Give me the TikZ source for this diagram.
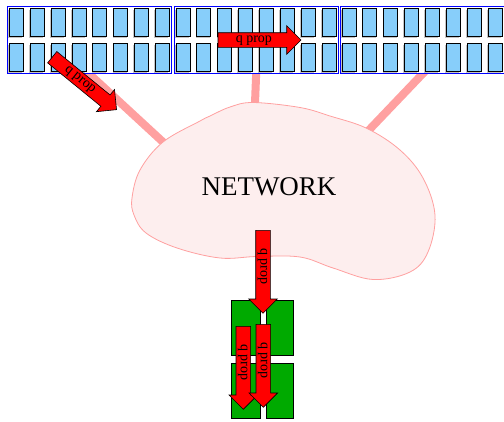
\documentclass[tikz,border=0pt]{standalone}
\usepackage{fontspec}
\setmainfont{Liberation Serif}
\usetikzlibrary{shapes.arrows,shadows}
\definecolor{cellblue}{RGB}{135,206,250}
\definecolor{netpink}{RGB}{255,160,160}
\definecolor{netfill}{RGB}{253,238,238}
\definecolor{grn}{RGB}{0,170,0}
\begin{document}
\begin{tikzpicture}[x=1pt,y=-1pt,
  rack/.style={draw=blue, fill=white, line width=1.3pt, minimum width=164pt, minimum height=67pt, inner sep=0pt, anchor=north west},
  cell/.style={draw=black, line width=1pt, fill=cellblue, minimum width=14pt, minimum height=28pt, inner sep=0pt, anchor=north west, drop shadow={shadow xshift=-1.2pt, shadow yshift=-1.2pt, opacity=0.45}},
  link/.style={draw=netpink, line width=8pt, shorten <=-6pt, shorten >=-6pt},
  gbox/.style={draw=black, line width=0.8pt, fill=grn, inner sep=0pt, anchor=north west, minimum height=55pt},
  qarrow/.style={single arrow, draw=black, fill=red, line width=0.6pt, font=\fontsize{14}{14}\selectfont, text height=9pt, text depth=4pt, inner ysep=0.5pt, inner xsep=1pt, single arrow head extend=7pt, minimum height=83pt, anchor=tail}
]
\useasboundingbox (0,0) rectangle (504,421);
% link end points on the cloud
\coordinate (e1) at (163,142);
\coordinate (e2) at (255,103);
\coordinate (e3) at (369,130);
% racks
\node[rack] (r1) at (7,6) {};
\node[rack] (r2) at (173.5,6) {};
\node[rack] (r3) at (339.5,6) {};
% links (behind racks and cloud)
\draw[link] (r1.south) -- (e1);
\draw[link] (r2.south) -- (e2);
\draw[link] (r3.south) -- (e3);
% redraw racks on top
\node[rack] (r1b) at (7,6) {};
\node[rack] (r2b) at (173.5,6) {};
\node[rack] (r3b) at (339.5,6) {};
\foreach \b/\x in {1/7,2/173.5,3/339.5}{
  \foreach \i in {0,...,7}{
    \node[cell] (c\b-\i-a) at ({\x+2+\i*20.86},8) {};
    \node[cell] (c\b-\i-b) at ({\x+2+\i*20.86},43.3) {};
  }
}
% cloud
\draw[draw=netpink, fill=netfill, line width=0.8pt] plot[smooth cycle, tension=0.6] coordinates {
  (253,102.5) (300,107.5) (330,116) (366.7,128.3) (400,150) (423,178) (435,215) (428,252) (410,272) (373,279.5) (333,268) (300,257) (257,256.5) (220,258) (177,248) (146,233) (134,215) (132,198) (140,170) (163,142) (200,121) (210,116) (230,107)};
\node[font=\fontsize{27}{27}\selectfont] (net) at (269,187) {NETWORK};
% green boxes
\node[gbox, minimum width=29pt] (g1) at (231,300) {};
\node[gbox, minimum width=27pt] (g2) at (266,300) {};
\node[gbox, minimum width=29pt] (g3) at (231,363) {};
\node[gbox, minimum width=27pt] (g4) at (266,363) {};
% arrows
\node[qarrow, rotate=-39.2] (a1) at (52,57) {q prop\hspace*{4pt}};
\node[qarrow] (a2) at (217.7,40) {q prop\hspace*{4pt}};
\node[qarrow, rotate=-90] (a3) at (263,230) {q prop\hspace*{4pt}};
\node[qarrow, rotate=-90] (a4) at (243.3,326) {q prop\hspace*{4pt}};
\node[qarrow, rotate=-90] (a5) at (263.3,324) {q prop\hspace*{4pt}};
\end{tikzpicture}
\end{document}
